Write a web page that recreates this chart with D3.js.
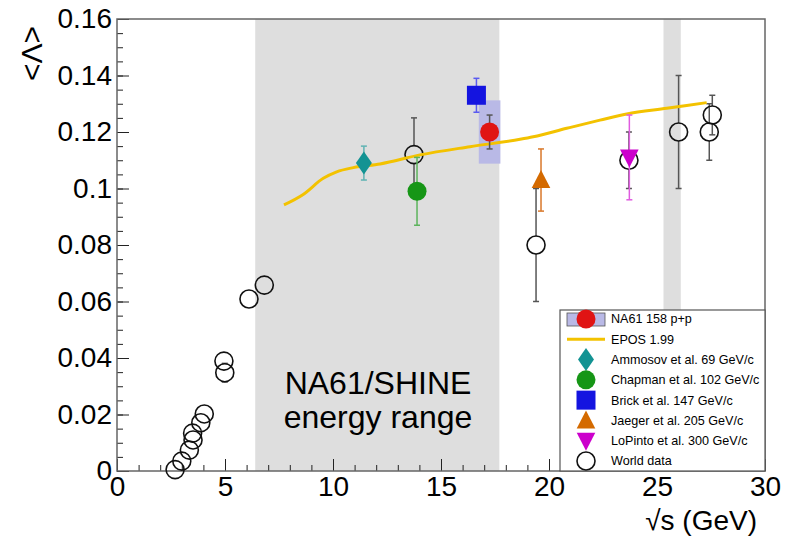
<!DOCTYPE html>
<html>
<head>
<meta charset="utf-8">
<script src="https://cdn.jsdelivr.net/npm/d3@7"></script>
<style>
  body { margin: 0; background: #fff; }
  svg { font-family: "Liberation Sans", Arial, sans-serif; }
  .axis text { font-size: 28px; fill: #000; }
  .axis line { stroke: #222; }
  .axis path { display: none; }
  .legend text { font-size: 12.6px; fill: #000; }
</style>
</head>
<body>
<div id="chart"></div>
<script>
// sqrt(s) bands of the NA61/SHINE range and the extra strip near 26 GeV
const bands = [[6.4, 17.7], [25.3, 26.1]];

// World data (open circles)
const worldData = [
  {x: 2.69, y: 0.0005, e: 0}, {x: 3.0, y: 0.0035, e: 0}, {x: 3.35, y: 0.0074, e: 0},
  {x: 3.52, y: 0.0110, e: 0}, {x: 3.50, y: 0.0134, e: 0}, {x: 3.88, y: 0.0171, e: 0},
  {x: 4.04, y: 0.0202, e: 0}, {x: 4.95, y: 0.0389, e: 0}, {x: 4.99, y: 0.0348, e: 0.0033},
  {x: 6.11, y: 0.0609, e: 0}, {x: 6.82, y: 0.0658, e: 0}, {x: 13.75, y: 0.112, e: 0.013},
  {x: 19.4, y: 0.080, e: 0.020}, {x: 23.7, y: 0.110, e: 0.010}, {x: 26.0, y: 0.120, e: 0.020},
  {x: 27.42, y: 0.120, e: 0.010}, {x: 27.56, y: 0.126, e: 0.007}
];

const na61 = [{x: 17.25, y: 0.120, e: 0.006, sx: 0.5, sy: 0.0112}];
const ammosov = [{x: 11.43, y: 0.109, e: 0.006}];
const chapman = [{x: 13.89, y: 0.099, e: 0.012}];
const brick = [{x: 16.64, y: 0.133, e: 0.006}];
const jaeger = [{x: 19.63, y: 0.103, e: 0.011}];
const lopinto = [{x: 23.72, y: 0.111, e: 0.015}];

// EPOS 1.99 curve
const eposX = [7.73, 8.62, 9.55, 10.17, 10.94, 12.18, 14.03, 16.34, 18.66, 19.27, 20.82, 22.36, 23.6, 25.45, 27.3];
const eposY = [0.0942, 0.0979, 0.1036, 0.1059, 0.1074, 0.1087, 0.1119, 0.1148, 0.1174, 0.1183, 0.1213, 0.1242, 0.1264, 0.1284, 0.1304];

const xTicks = [0, 5, 10, 15, 20, 25, 30];
const yTicks = [0, 0.02, 0.04, 0.06, 0.08, 0.1, 0.12, 0.14, 0.16];

const legendItems = [
  {label: 'NA61 158 p+p', kind: 'na61'},
  {label: 'EPOS 1.99', kind: 'epos'},
  {label: 'Ammosov et al. 69 GeV/c', kind: 'diamond'},
  {label: 'Chapman et al. 102 GeV/c', kind: 'green'},
  {label: 'Brick et al. 147 GeV/c', kind: 'square'},
  {label: 'Jaeger et al. 205 GeV/c', kind: 'up'},
  {label: 'LoPinto et al. 300 GeV/c', kind: 'down'},
  {label: 'World data', kind: 'open'}
];

const width = 790;
const height = 539;
const plotLeft = 117, plotRight = 765, plotTop = 19, plotBottom = 471;

const svg = d3.select('#chart').append('svg')
  .attr('width', width)
  .attr('height', height);

const x = d3.scaleLinear().domain([0, 30]).range([plotLeft, plotRight]);
const y = d3.scaleLinear().domain([0, 0.16]).range([plotBottom, plotTop]);

// marker shapes, relative to the marker centre
const shapes = {
  diamond: 'M0,-11.5L8,0L0,11.5L-8,0Z',
  square: 'M-9.5,-9.5H9.5V9.5H-9.5Z',
  up: 'M0,-10L9.3,8H-9.3Z',
  down: 'M0,10L9.3,-8H-9.3Z'
};

// gray bands
svg.append('g').selectAll('rect')
  .data(bands)
  .enter()
  .append('rect')
  .attr('x', (d) => x(d[0]))
  .attr('y', plotTop)
  .attr('width', (d) => x(d[1]) - x(d[0]))
  .attr('height', plotBottom - plotTop)
  .attr('fill', '#dedede');

// minor + major ticks (inside, ROOT style)
svg.append('g')
   .attr('class', 'axis')
   .attr('transform', `translate(0, ${plotBottom})`)
   .call(d3.axisBottom(x).tickValues(d3.range(0, 31, 1)).tickSize(-6).tickFormat(''));
svg.append('g')
   .attr('class', 'axis')
   .attr('transform', `translate(0, ${plotBottom})`)
   .call(d3.axisBottom(x).tickValues(xTicks).tickSize(-12).tickPadding(5).tickFormat(d3.format('d')));
svg.append('g')
   .attr('class', 'axis')
   .attr('transform', `translate(${plotLeft}, 0)`)
   .call(d3.axisLeft(y).tickValues(d3.range(0, 0.1601, 0.005)).tickSize(-6).tickFormat(''));
svg.append('g')
   .attr('class', 'axis')
   .attr('transform', `translate(${plotLeft}, 0)`)
   .call(d3.axisLeft(y).tickValues(yTicks).tickSize(-12).tickPadding(5)
           .tickFormat((d) => d === 0 ? '0' : String(+d.toFixed(2))));

svg.selectAll('.axis text').attr('font-size', 28);

// frame
svg.append('rect')
   .attr('x', plotLeft).attr('y', plotTop)
   .attr('width', plotRight - plotLeft).attr('height', plotBottom - plotTop)
   .attr('fill', 'none')
   .attr('stroke', '#666')
   .attr('stroke-width', 1.5);

// axis titles
svg.append('text')
   .attr('x', 757)
   .attr('y', 530)
   .attr('text-anchor', 'end')
   .attr('font-size', 28)
   .text('√s (GeV)');
svg.append('text')
   .attr('transform', 'translate(42, 26) rotate(-90)')
   .attr('text-anchor', 'end')
   .attr('font-size', 30)
   .text('<Λ>');

// NA61/SHINE label
svg.append('text')
   .attr('x', 378).attr('y', 394)
   .attr('text-anchor', 'middle')
   .attr('font-size', 32)
   .text('NA61/SHINE');
svg.append('text')
   .attr('x', 378).attr('y', 428)
   .attr('text-anchor', 'middle')
   .attr('font-size', 32)
   .text('energy range');

// error bars with end caps, leaving a gap of `gap` px around the marker
function errorBars(data, color, gap) {
  const g = svg.append('g').attr('stroke', color).attr('stroke-width', 1.5);
  data.filter((d) => d.e > 0).forEach((d) => {
    const cx = x(d.x);
    const yTop = y(d.y + d.e);
    const yBot = y(d.y - d.e);
    const cy = y(d.y);
    g.append('line').attr('x1', cx).attr('x2', cx).attr('y1', yTop).attr('y2', cy - gap);
    g.append('line').attr('x1', cx).attr('x2', cx).attr('y1', cy + gap).attr('y2', yBot);
    g.append('line').attr('x1', cx - 3).attr('x2', cx + 3).attr('y1', yTop).attr('y2', yTop);
    g.append('line').attr('x1', cx - 3).attr('x2', cx + 3).attr('y1', yBot).attr('y2', yBot);
  });
}

// world data
errorBars(worldData, '#555', 9);
svg.append('g').selectAll('circle')
  .data(worldData)
  .enter()
  .append('circle')
  .attr('cx', (d) => x(d.x))
  .attr('cy', (d) => y(d.y))
  .attr('r', 9)
  .attr('fill', 'none')
  .attr('stroke', '#111')
  .attr('stroke-width', 1.6);

// NA61 systematic box
svg.append('g').selectAll('rect')
  .data(na61)
  .enter()
  .append('rect')
  .attr('x', (d) => x(d.x - d.sx))
  .attr('y', (d) => y(d.y + d.sy))
  .attr('width', (d) => x(d.x + d.sx) - x(d.x - d.sx))
  .attr('height', (d) => y(d.y - d.sy) - y(d.y + d.sy))
  .attr('fill', '#b9b9e6');

// EPOS line
const eposData = eposX.map((v, i) => ({x: v, y: eposY[i]}));
svg.append('path')
   .datum(eposData)
   .attr('fill', 'none')
   .attr('stroke', '#f3c200')
   .attr('stroke-width', 3)
   .attr('d', d3.line().curve(d3.curveMonotoneX).x((d) => x(d.x)).y((d) => y(d.y)));

// coloured data sets
errorBars(ammosov, '#5fb3b3', 0);
errorBars(chapman, '#5cb35c', 0);
errorBars(brick, '#5a5af0', 0);
errorBars(na61, '#555', 0);
errorBars(jaeger, '#d9782a', 0);
errorBars(lopinto, '#e05ce0', 0);

function markers(data, shape, color) {
  svg.append('g').selectAll('path')
    .data(data)
    .enter()
    .append('path')
    .attr('transform', (d) => `translate(${x(d.x)}, ${y(d.y)})`)
    .attr('d', shapes[shape])
    .attr('fill', color);
}
function dots(data, color) {
  svg.append('g').selectAll('circle')
    .data(data)
    .enter()
    .append('circle')
    .attr('cx', (d) => x(d.x))
    .attr('cy', (d) => y(d.y))
    .attr('r', 9.5)
    .attr('fill', color);
}
markers(ammosov, 'diamond', '#139393');
dots(chapman, '#169616');
markers(brick, 'square', '#1414e0');
dots(na61, '#e01414');
markers(jaeger, 'up', '#d46a00');
markers(lopinto, 'down', '#cc00cc');

// legend
const legend = svg.append('g').attr('class', 'legend');
legend.append('rect')
  .attr('x', 560).attr('y', 310)
  .attr('width', 205).attr('height', 161)
  .attr('fill', '#fff')
  .attr('stroke', '#555')
  .attr('stroke-width', 1.2);

const rowY = d3.scalePoint().domain(d3.range(legendItems.length)).range([319, 461]);
const mx = 586;
legendItems.forEach((item, i) => {
  const cy = rowY(i);
  const g = legend.append('g');
  if (item.kind === 'na61') {
    g.append('rect').attr('x', 567).attr('y', cy - 6).attr('width', 38).attr('height', 13)
     .attr('fill', '#b9b9e6').attr('stroke', '#555').attr('stroke-width', 0.8);
    g.append('circle').attr('cx', mx).attr('cy', cy).attr('r', 9.5).attr('fill', '#e01414');
  } else if (item.kind === 'epos') {
    g.append('line').attr('x1', 567).attr('x2', 605).attr('y1', cy).attr('y2', cy)
     .attr('stroke', '#f3c200').attr('stroke-width', 3);
  } else if (item.kind === 'green') {
    g.append('circle').attr('cx', mx).attr('cy', cy).attr('r', 9.5).attr('fill', '#169616');
  } else if (item.kind === 'open') {
    g.append('circle').attr('cx', mx).attr('cy', cy).attr('r', 9)
     .attr('fill', 'none').attr('stroke', '#111').attr('stroke-width', 1.6);
  } else {
    const col = {diamond: '#139393', square: '#1414e0', up: '#d46a00', down: '#cc00cc'}[item.kind];
    g.append('path').attr('transform', `translate(${mx}, ${cy})`)
     .attr('d', shapes[item.kind]).attr('fill', col);
  }
  g.append('text')
   .attr('x', 611).attr('y', cy)
   .attr('dy', '0.35em')
   .text(item.label);
});
</script>
</body>
</html>
